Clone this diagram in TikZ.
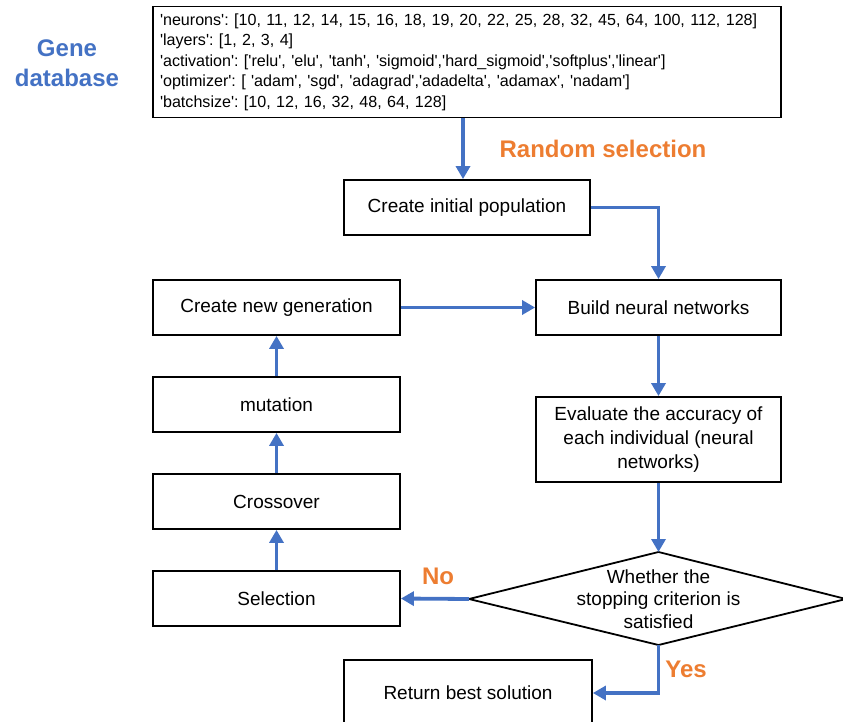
\documentclass[tikz,border=0pt]{standalone}
\usepackage{fontspec}
\setmainfont{Liberation Sans}
\usetikzlibrary{arrows.meta}
\definecolor{cblue}{HTML}{4472C4}
\definecolor{corange}{HTML}{ED7D31}
\newcommand{\qq}{\textquotesingle}
\begin{document}
\begin{tikzpicture}[x=1pt,y=-1pt,
  box/.style={draw=black,line width=1.8pt,minimum height=55pt,inner sep=0pt,
    font=\fontsize{19}{24}\selectfont,align=center},
  flow/.style={draw=cblue,line width=3.8pt,-{Triangle[length=13pt,width=14pt]}},
  lab/.style={text=corange,font=\fontsize{24}{28}\selectfont\bfseries},
  bluelab/.style={text=cblue,font=\fontsize{24}{30}\selectfont\bfseries,align=center}]
\useasboundingbox (0,0) rectangle (843,722);
\frenchspacing

% gene database box
\node[draw=black,line width=1.8pt,minimum width=628pt,minimum height=108pt,
  text width=614pt,inner sep=7pt,align=left,
  font=\fontsize{16.1}{20.5}\selectfont\frenchspacing] (gene) at (467,62)
  {\qq neurons\qq: [10, 11, 12, 14, 15, 16, 18, 19, 20, 22, 25, 28, 32, 45, 64, 100, 112, 128]\\
   \qq layers\qq: [1, 2, 3, 4]\\
   \qq activation\qq: [\qq relu\qq, \qq elu\qq, \qq tanh\qq, \qq sigmoid\qq,\qq hard\_sigmoid\qq,\qq softplus\qq,\qq linear\qq]\\
   \qq optimizer\qq: [ \qq adam\qq, \qq sgd\qq, \qq adagrad\qq,\qq adadelta\qq, \qq adamax\qq, \qq nadam\qq]\\
   \qq batchsize\qq: [10, 12, 16, 32, 48, 64, 128]};
\node[bluelab] (genelab) at (67,63) {Gene\\database};
\node[lab] (rand) at (603,149) {Random selection};

% boxes
\node[box,minimum width=246pt] (init) at (467,207.5) {Create initial population};
\node[box,minimum width=245pt] (build) at (658.5,307.5) {Build neural networks};
\node[box,minimum width=247pt] (newgen) at (276.5,307.5) {Create new generation};
\node[box,minimum width=245pt,minimum height=85pt] (eval) at (658.5,439.5)
  {Evaluate the accuracy of\\each individual (neural\\networks)};
\node[box,minimum width=247pt] (mut) at (276.5,404.5) {mutation};
\node[box,minimum width=247pt] (cross) at (276.5,501.5) {Crossover};
\node[box,minimum width=247pt] (sel) at (276.5,598.5) {Selection};
\node[box,minimum width=248pt,minimum height=66pt] (ret) at (468,693) {Return best solution};

% decision diamond
\coordinate (dtop) at (658.5,552);
\coordinate (dleft) at (469,599);
\coordinate (dbot) at (658.5,645);
\coordinate (dright) at (846,599);
\draw[line width=1.8pt,line join=miter] (dtop) -- (dright) -- (dbot) -- (dleft) -- cycle;
\node[font=\fontsize{19}{22.5}\selectfont,align=center] (dtext) at (658.5,599)
  {Whether the\\stopping criterion is\\satisfied};

% connectors
\draw[flow] ([xshift=-4pt]gene.south) -- ([xshift=-4pt]init.north);
\draw[flow] (init.east) -| (build.north);
\draw[flow] (newgen.east) -- (build.west);
\draw[flow] (build.south) -- (eval.north);
\draw[flow] (eval.south) -- (dtop);
\draw[flow] (dleft) -- (sel.east);
\draw[flow] (dbot) |- (ret.east);
\draw[flow] (sel.north) -- (cross.south);
\draw[flow] (cross.north) -- (mut.south);
\draw[flow] (mut.north) -- (newgen.south);

\node[lab] (nolab) at (438,576) {No};
\node[lab] (yeslab) at (686,669) {Yes};
\end{tikzpicture}
\end{document}
